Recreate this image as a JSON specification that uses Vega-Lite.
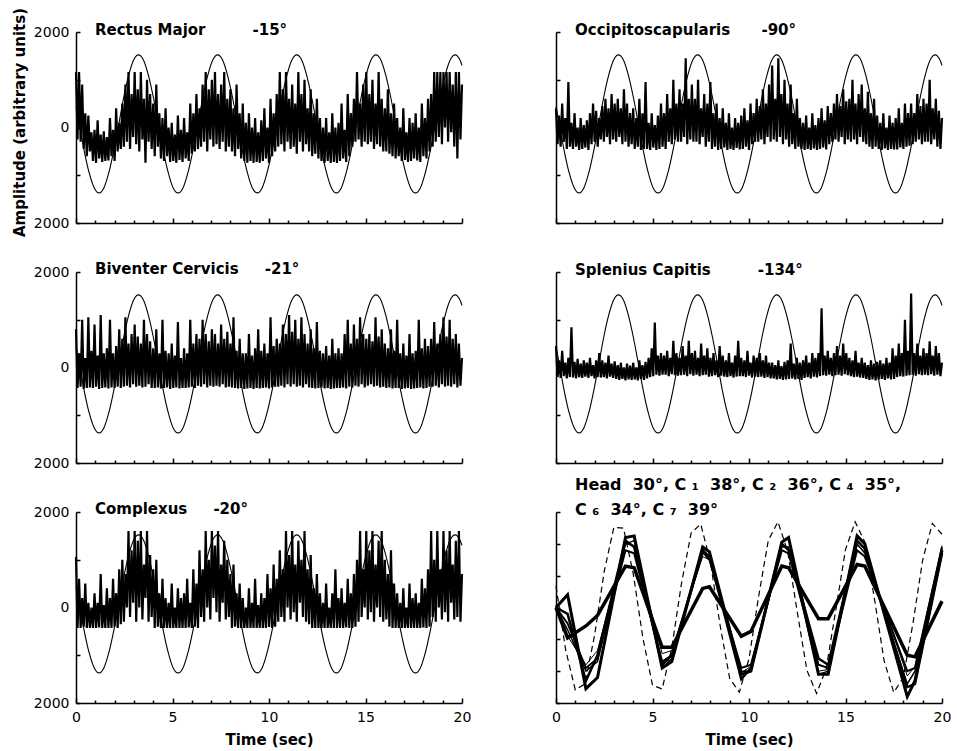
{
"$schema": "https://vega.github.io/schema/vega-lite/v6.json",
"background": "white",
"padding": {"left": 12, "top": 7, "right": 5, "bottom": 2},
"config": {
  "view": {"stroke": null},
  "axis": {"grid": false, "domainColor": "black", "domainWidth": 1.5, "tickColor": "black", "tickWidth": 1.5, "labelColor": "black", "labelFont": "DejaVu Sans", "labelFontSize": 14, "titleFont": "DejaVu Sans", "titleFontSize": 15, "titleFontWeight": "bold", "titleColor": "black"},
  "title": {"font": "DejaVu Sans", "fontSize": 15, "fontWeight": "bold", "color": "black", "anchor": "start", "frame": "group", "dx": 19, "offset": 0, "baseline": "alphabetic"},
  "line": {"color": "black"}
},
"datasets": {
"sine": [{"t":0,"v":438},{"t":0.17,"v":75},{"t":0.42,"v":-478},{"t":0.68,"v":-947},{"t":0.94,"v":-1260},{"t":1.19,"v":-1370},{"t":1.45,"v":-1260},{"t":1.7,"v":-947},{"t":1.96,"v":-478},{"t":2.22,"v":75},{"t":2.47,"v":628},{"t":2.73,"v":1097},{"t":2.98,"v":1410},{"t":3.24,"v":1520},{"t":3.5,"v":1410},{"t":3.75,"v":1097},{"t":4.01,"v":628},{"t":4.27,"v":75},{"t":4.52,"v":-478},{"t":4.78,"v":-947},{"t":5.03,"v":-1260},{"t":5.29,"v":-1370},{"t":5.55,"v":-1260},{"t":5.8,"v":-947},{"t":6.06,"v":-478},{"t":6.32,"v":75},{"t":6.57,"v":628},{"t":6.83,"v":1097},{"t":7.08,"v":1410},{"t":7.34,"v":1520},{"t":7.6,"v":1410},{"t":7.85,"v":1097},{"t":8.11,"v":628},{"t":8.37,"v":75},{"t":8.62,"v":-478},{"t":8.88,"v":-947},{"t":9.13,"v":-1260},{"t":9.39,"v":-1370},{"t":9.65,"v":-1260},{"t":9.9,"v":-947},{"t":10.16,"v":-478},{"t":10.42,"v":75},{"t":10.67,"v":628},{"t":10.93,"v":1097},{"t":11.18,"v":1410},{"t":11.44,"v":1520},{"t":11.7,"v":1410},{"t":11.95,"v":1097},{"t":12.21,"v":628},{"t":12.47,"v":75},{"t":12.72,"v":-478},{"t":12.98,"v":-947},{"t":13.23,"v":-1260},{"t":13.49,"v":-1370},{"t":13.75,"v":-1260},{"t":14,"v":-947},{"t":14.26,"v":-478},{"t":14.52,"v":75},{"t":14.77,"v":628},{"t":15.03,"v":1097},{"t":15.28,"v":1410},{"t":15.54,"v":1520},{"t":15.8,"v":1410},{"t":16.05,"v":1097},{"t":16.31,"v":628},{"t":16.57,"v":75},{"t":16.82,"v":-478},{"t":17.08,"v":-947},{"t":17.33,"v":-1260},{"t":17.59,"v":-1370},{"t":17.85,"v":-1260},{"t":18.1,"v":-947},{"t":18.36,"v":-478},{"t":18.62,"v":75},{"t":18.87,"v":628},{"t":19.13,"v":1097},{"t":19.38,"v":1410},{"t":19.64,"v":1520},{"t":19.9,"v":1410},{"t":20,"v":1300}],
"dash": [{"t":0,"v":0.68},{"t":0.5,"v":-1.33},{"t":1,"v":-2.59},{"t":1.5,"v":-2.4},{"t":2,"v":-0.87},{"t":2.5,"v":1.14},{"t":3,"v":2.52},{"t":3.5,"v":2.49},{"t":4,"v":1.07},{"t":4.5,"v":-0.95},{"t":5,"v":-2.44},{"t":5.5,"v":-2.56},{"t":6,"v":-1.26},{"t":6.5,"v":0.75},{"t":7,"v":2.34},{"t":7.5,"v":2.62},{"t":8,"v":1.43},{"t":8.5,"v":-0.55},{"t":9,"v":-2.23},{"t":9.5,"v":-2.66},{"t":10,"v":-1.61},{"t":10.5,"v":0.35},{"t":11,"v":2.11},{"t":11.5,"v":2.69},{"t":12,"v":1.77},{"t":12.5,"v":-0.14},{"t":13,"v":-1.97},{"t":13.5,"v":-2.7},{"t":14,"v":-1.92},{"t":14.5,"v":-0.07},{"t":15,"v":1.82},{"t":15.5,"v":2.69},{"t":16,"v":2.06},{"t":16.5,"v":0.27},{"t":17,"v":-1.67},{"t":17.5,"v":-2.67},{"t":18,"v":-2.19},{"t":18.5,"v":-0.48},{"t":19,"v":1.5},{"t":19.5,"v":2.64},{"t":20,"v":2.3}],
"pos": [
{"s":"Head","t":0,"v":0},{"s":"Head","t":0.6,"v":-0.95},{"s":"Head","t":1.55,"v":-0.58},{"s":"Head","t":2.15,"v":-0.25},{"s":"Head","t":3.6,"v":1.3},{"s":"Head","t":4.05,"v":1.25},{"s":"Head","t":5.5,"v":-1.25},{"s":"Head","t":6,"v":-1.25},{"s":"Head","t":7.6,"v":0.6},{"s":"Head","t":7.95,"v":0.65},{"s":"Head","t":9.6,"v":-0.9},{"s":"Head","t":10.1,"v":-0.75},{"s":"Head","t":11.7,"v":1.3},{"s":"Head","t":12.05,"v":1.25},{"s":"Head","t":13.6,"v":-0.35},{"s":"Head","t":14.1,"v":-0.35},{"s":"Head","t":15.6,"v":1.35},{"s":"Head","t":16,"v":1.3},{"s":"Head","t":18.2,"v":-1.5},{"s":"Head","t":18.6,"v":-1.55},{"s":"Head","t":20,"v":0.2},
{"s":"C7","t":0,"v":0},{"s":"C7","t":0.6,"v":-0.9},{"s":"C7","t":1.55,"v":-1.8},{"s":"C7","t":2.15,"v":-1.35},{"s":"C7","t":3.6,"v":2.0},{"s":"C7","t":4.05,"v":1.95},{"s":"C7","t":5.5,"v":-1.45},{"s":"C7","t":6,"v":-1.35},{"s":"C7","t":7.6,"v":1.6},{"s":"C7","t":7.95,"v":1.5},{"s":"C7","t":9.6,"v":-2.05},{"s":"C7","t":10.1,"v":-1.85},{"s":"C7","t":11.7,"v":1.95},{"s":"C7","t":12.05,"v":1.9},{"s":"C7","t":13.6,"v":-2.0},{"s":"C7","t":14.1,"v":-1.95},{"s":"C7","t":15.6,"v":1.95},{"s":"C7","t":16,"v":1.75},{"s":"C7","t":18.2,"v":-2.15},{"s":"C7","t":18.6,"v":-1.85},{"s":"C7","t":20,"v":1.95},
{"s":"C1","t":0,"v":0},{"s":"C1","t":0.6,"v":0.4},{"s":"C1","t":1.55,"v":-2.55},{"s":"C1","t":2.15,"v":-2.2},{"s":"C1","t":3.6,"v":2.2},{"s":"C1","t":4.05,"v":2.25},{"s":"C1","t":5.5,"v":-1.9},{"s":"C1","t":6,"v":-1.7},{"s":"C1","t":7.6,"v":1.9},{"s":"C1","t":7.95,"v":1.75},{"s":"C1","t":9.6,"v":-2.1},{"s":"C1","t":10.1,"v":-2.0},{"s":"C1","t":11.7,"v":2.05},{"s":"C1","t":12.05,"v":2.2},{"s":"C1","t":13.6,"v":-2.1},{"s":"C1","t":14.1,"v":-2.1},{"s":"C1","t":15.6,"v":2.25},{"s":"C1","t":16,"v":2.0},{"s":"C1","t":18.2,"v":-2.8},{"s":"C1","t":18.6,"v":-2.3},{"s":"C1","t":20,"v":1.8},
{"s":"C2","t":0,"v":0},{"s":"C2","t":0.6,"v":-0.2},{"s":"C2","t":1.55,"v":-2.3},{"s":"C2","t":2.15,"v":-1.5},{"s":"C2","t":3.6,"v":2.1},{"s":"C2","t":4.05,"v":1.9},{"s":"C2","t":5.5,"v":-1.8},{"s":"C2","t":6,"v":-1.5},{"s":"C2","t":7.6,"v":1.8},{"s":"C2","t":7.95,"v":1.6},{"s":"C2","t":9.6,"v":-2.25},{"s":"C2","t":10.1,"v":-1.9},{"s":"C2","t":11.7,"v":2.0},{"s":"C2","t":12.05,"v":1.8},{"s":"C2","t":13.6,"v":-1.6},{"s":"C2","t":14.1,"v":-1.8},{"s":"C2","t":15.6,"v":2.1},{"s":"C2","t":16,"v":1.85},{"s":"C2","t":18.2,"v":-2.5},{"s":"C2","t":18.6,"v":-2.4},{"s":"C2","t":20,"v":1.7},
{"s":"C4","t":0,"v":0},{"s":"C4","t":0.6,"v":-0.5},{"s":"C4","t":1.55,"v":-1.9},{"s":"C4","t":2.15,"v":-1.6},{"s":"C4","t":3.6,"v":1.8},{"s":"C4","t":4.05,"v":1.7},{"s":"C4","t":5.5,"v":-1.7},{"s":"C4","t":6,"v":-1.5},{"s":"C4","t":7.6,"v":1.75},{"s":"C4","t":7.95,"v":1.5},{"s":"C4","t":9.6,"v":-1.9},{"s":"C4","t":10.1,"v":-1.8},{"s":"C4","t":11.7,"v":1.8},{"s":"C4","t":12.05,"v":1.7},{"s":"C4","t":13.6,"v":-1.8},{"s":"C4","t":14.1,"v":-1.9},{"s":"C4","t":15.6,"v":1.8},{"s":"C4","t":16,"v":1.6},{"s":"C4","t":18.2,"v":-2.0},{"s":"C4","t":18.6,"v":-1.9},{"s":"C4","t":20,"v":1.9},
{"s":"C6","t":0,"v":0},{"s":"C6","t":0.6,"v":-0.7},{"s":"C6","t":1.55,"v":-2.0},{"s":"C6","t":2.15,"v":-1.7},{"s":"C6","t":3.6,"v":2.0},{"s":"C6","t":4.05,"v":2.1},{"s":"C6","t":5.5,"v":-1.9},{"s":"C6","t":6,"v":-1.6},{"s":"C6","t":7.6,"v":1.7},{"s":"C6","t":7.95,"v":1.6},{"s":"C6","t":9.6,"v":-2.0},{"s":"C6","t":10.1,"v":-2.0},{"s":"C6","t":11.7,"v":1.9},{"s":"C6","t":12.05,"v":1.9},{"s":"C6","t":13.6,"v":-2.1},{"s":"C6","t":14.1,"v":-2.0},{"s":"C6","t":15.6,"v":2.0},{"s":"C6","t":16,"v":1.7},{"s":"C6","t":18.2,"v":-2.4},{"s":"C6","t":18.6,"v":-2.0},{"s":"C6","t":20,"v":1.85}
],
"emg": [
{"t":0,"a":1160,"b":400,"c":800,"d":450,"e":1060},{"t":0.08,"a":-250,"b":-350,"c":-430,"d":-200,"e":-430},{"t":0.16,"a":1160,"b":250,"c":300,"d":150,"e":600},{"t":0.24,"a":-300,"b":-400,"c":-400,"d":-220,"e":-430},{"t":0.32,"a":900,"b":500,"c":1000,"d":350,"e":200},{"t":0.4,"a":-450,"b":-300,"c":-450,"d":-180,"e":-400},{"t":0.48,"a":300,"b":200,"c":200,"d":100,"e":500},{"t":0.56,"a":-600,"b":-450,"c":-430,"d":-230,"e":-430},{"t":0.64,"a":250,"b":950,"c":1050,"d":200,"e":100},{"t":0.72,"a":-500,"b":-400,"c":-420,"d":-200,"e":-430},
{"t":0.8,"a":-100,"b":100,"c":350,"d":840,"e":0},{"t":0.88,"a":-700,"b":-450,"c":-430,"d":-210,"e":-430},{"t":0.96,"a":-50,"b":300,"c":900,"d":120,"e":300},{"t":1.04,"a":-740,"b":-400,"c":-400,"d":-230,"e":-430},{"t":1.12,"a":150,"b":0,"c":250,"d":180,"e":100},{"t":1.2,"a":-650,"b":-470,"c":-450,"d":-200,"e":-420},{"t":1.28,"a":-150,"b":200,"c":1100,"d":80,"e":700},{"t":1.36,"a":-720,"b":-450,"c":-430,"d":-220,"e":-430},{"t":1.44,"a":-80,"b":50,"c":300,"d":150,"e":50},{"t":1.52,"a":-700,"b":-420,"c":-420,"d":-190,"e":-430},
{"t":1.6,"a":-200,"b":150,"c":400,"d":100,"e":400},{"t":1.68,"a":-690,"b":-470,"c":-440,"d":-220,"e":-430},{"t":1.76,"a":200,"b":300,"c":1000,"d":200,"e":200},{"t":1.84,"a":-600,"b":-350,"c":-420,"d":-180,"e":-430},{"t":1.92,"a":-50,"b":500,"c":300,"d":50,"e":600},{"t":2,"a":-700,"b":-300,"c":-430,"d":-230,"e":-400},{"t":2.08,"a":400,"b":350,"c":450,"d":150,"e":300},{"t":2.16,"a":-500,"b":-400,"c":-400,"d":-200,"e":-430},{"t":2.24,"a":100,"b":200,"c":800,"d":300,"e":800},{"t":2.32,"a":-450,"b":-250,"c":-430,"d":-210,"e":-350},
{"t":2.4,"a":500,"b":450,"c":600,"d":150,"e":1000},{"t":2.48,"a":-400,"b":-300,"c":-400,"d":-200,"e":-300},{"t":2.56,"a":900,"b":600,"c":1050,"d":100,"e":700},{"t":2.64,"a":-300,"b":-200,"c":-380,"d":-230,"e":0},{"t":2.72,"a":1160,"b":400,"c":500,"d":250,"e":1600},{"t":2.8,"a":-450,"b":-350,"c":-420,"d":-190,"e":-200},{"t":2.88,"a":700,"b":700,"c":700,"d":80,"e":1200},{"t":2.96,"a":-200,"b":-250,"c":-350,"d":-220,"e":100},{"t":3.04,"a":1160,"b":500,"c":900,"d":130,"e":1600},{"t":3.12,"a":-350,"b":-300,"c":-400,"d":-240,"e":-300},
{"t":3.2,"a":800,"b":600,"c":650,"d":50,"e":1400},{"t":3.28,"a":-500,"b":-200,"c":-380,"d":-260,"e":0},{"t":3.36,"a":1160,"b":400,"c":500,"d":100,"e":1600},{"t":3.44,"a":-250,"b":-350,"c":-420,"d":-240,"e":-250},{"t":3.52,"a":600,"b":800,"c":1000,"d":0,"e":900},{"t":3.6,"a":-740,"b":-300,"c":-400,"d":-270,"e":200},{"t":3.68,"a":1000,"b":500,"c":700,"d":80,"e":1600},{"t":3.76,"a":-300,"b":-400,"c":-350,"d":-250,"e":-300},{"t":3.84,"a":700,"b":300,"c":550,"d":40,"e":1100},{"t":3.92,"a":-450,"b":-350,"c":-430,"d":-260,"e":-200},
{"t":4,"a":500,"b":400,"c":400,"d":100,"e":800},{"t":4.08,"a":-600,"b":-450,"c":-430,"d":-250,"e":-430},{"t":4.16,"a":900,"b":200,"c":800,"d":0,"e":1000},{"t":4.24,"a":-400,"b":-400,"c":-420,"d":-270,"e":-400},{"t":4.32,"a":300,"b":600,"c":300,"d":150,"e":300},{"t":4.4,"a":-650,"b":-470,"c":-440,"d":-240,"e":-430},{"t":4.48,"a":200,"b":300,"c":1000,"d":50,"e":600},{"t":4.56,"a":-700,"b":-450,"c":-430,"d":-260,"e":-430},{"t":4.64,"a":400,"b":950,"c":350,"d":120,"e":200},{"t":4.72,"a":-600,"b":-450,"c":-420,"d":-230,"e":-430},
{"t":4.8,"a":0,"b":100,"c":300,"d":200,"e":100},{"t":4.88,"a":-720,"b":-470,"c":-450,"d":-200,"e":-430},{"t":4.96,"a":100,"b":300,"c":500,"d":400,"e":500},{"t":5.04,"a":-700,"b":-420,"c":-430,"d":-180,"e":-430},{"t":5.12,"a":-150,"b":50,"c":250,"d":940,"e":0},{"t":5.2,"a":-740,"b":-470,"c":-420,"d":-150,"e":-430},{"t":5.28,"a":250,"b":250,"c":950,"d":250,"e":400},{"t":5.36,"a":-680,"b":-450,"c":-440,"d":-170,"e":-430},{"t":5.44,"a":-50,"b":500,"c":200,"d":300,"e":200},{"t":5.52,"a":-720,"b":-400,"c":-430,"d":-150,"e":-430},
{"t":5.6,"a":200,"b":300,"c":400,"d":250,"e":300},{"t":5.68,"a":-650,"b":-450,"c":-430,"d":-150,"e":-430},{"t":5.76,"a":-100,"b":700,"c":300,"d":350,"e":600},{"t":5.84,"a":-700,"b":-300,"c":-420,"d":-180,"e":-420},{"t":5.92,"a":500,"b":400,"c":1000,"d":200,"e":100},{"t":6,"a":-550,"b":-350,"c":-400,"d":-140,"e":-430},{"t":6.08,"a":300,"b":1000,"c":500,"d":560,"e":800},{"t":6.16,"a":-500,"b":-250,"c":-430,"d":-160,"e":-400},{"t":6.24,"a":700,"b":500,"c":700,"d":300,"e":500},{"t":6.32,"a":-450,"b":-300,"c":-380,"d":-170,"e":-430},
{"t":6.4,"a":400,"b":800,"c":600,"d":200,"e":1200},{"t":6.48,"a":-400,"b":-300,"c":-400,"d":-160,"e":-200},{"t":6.56,"a":900,"b":500,"c":1000,"d":450,"e":800},{"t":6.64,"a":-300,"b":-200,"c":-350,"d":-150,"e":-300},{"t":6.72,"a":1160,"b":1450,"c":700,"d":250,"e":1600},{"t":6.8,"a":-500,"b":-350,"c":-420,"d":-180,"e":0},{"t":6.88,"a":800,"b":600,"c":550,"d":560,"e":1000},{"t":6.96,"a":-250,"b":-250,"c":-380,"d":-140,"e":-250},{"t":7.04,"a":1000,"b":900,"c":800,"d":300,"e":1600},{"t":7.12,"a":-400,"b":-300,"c":-400,"d":-170,"e":200},
{"t":7.2,"a":1160,"b":600,"c":700,"d":350,"e":1300},{"t":7.28,"a":-350,"b":-300,"c":-380,"d":-150,"e":-100},{"t":7.36,"a":700,"b":1000,"c":500,"d":200,"e":1600},{"t":7.44,"a":-450,"b":-350,"c":-400,"d":-180,"e":-300},{"t":7.52,"a":900,"b":400,"c":900,"d":500,"e":900},{"t":7.6,"a":-300,"b":-200,"c":-350,"d":-160,"e":100},{"t":7.68,"a":1160,"b":700,"c":600,"d":250,"e":1400},{"t":7.76,"a":-500,"b":-400,"c":-420,"d":-150,"e":-250},{"t":7.84,"a":600,"b":500,"c":750,"d":400,"e":1000},{"t":7.92,"a":-400,"b":-300,"c":-400,"d":-190,"e":-200},
{"t":8,"a":800,"b":950,"c":500,"d":200,"e":700},{"t":8.08,"a":-500,"b":-450,"c":-420,"d":-180,"e":-430},{"t":8.16,"a":400,"b":300,"c":1050,"d":300,"e":900},{"t":8.24,"a":-600,"b":-400,"c":-430,"d":-160,"e":-400},{"t":8.32,"a":900,"b":500,"c":350,"d":150,"e":300},{"t":8.4,"a":-450,"b":-470,"c":-440,"d":-200,"e":-430},{"t":8.48,"a":300,"b":200,"c":600,"d":450,"e":500},{"t":8.56,"a":-650,"b":-450,"c":-430,"d":-170,"e":-430},{"t":8.64,"a":500,"b":400,"c":300,"d":250,"e":200},{"t":8.72,"a":-700,"b":-420,"c":-450,"d":-190,"e":-430},
{"t":8.8,"a":100,"b":100,"c":300,"d":150,"e":0},{"t":8.88,"a":-740,"b":-470,"c":-440,"d":-200,"e":-430},{"t":8.96,"a":300,"b":300,"c":700,"d":300,"e":400},{"t":9.04,"a":-700,"b":-450,"c":-430,"d":-180,"e":-430},{"t":9.12,"a":0,"b":0,"c":250,"d":100,"e":100},{"t":9.2,"a":-740,"b":-470,"c":-450,"d":-210,"e":-430},{"t":9.28,"a":200,"b":200,"c":400,"d":250,"e":600},{"t":9.36,"a":-720,"b":-430,"c":-430,"d":-190,"e":-430},{"t":9.44,"a":-100,"b":100,"c":800,"d":560,"e":50},{"t":9.52,"a":-740,"b":-460,"c":-440,"d":-180,"e":-430},
{"t":9.6,"a":150,"b":250,"c":350,"d":200,"e":300},{"t":9.68,"a":-700,"b":-450,"c":-430,"d":-180,"e":-430},{"t":9.76,"a":400,"b":400,"c":500,"d":150,"e":200},{"t":9.84,"a":-650,"b":-400,"c":-420,"d":-200,"e":-430},{"t":9.92,"a":0,"b":150,"c":300,"d":350,"e":700},{"t":10,"a":-740,"b":-470,"c":-440,"d":-170,"e":-410},{"t":10.08,"a":600,"b":500,"c":1050,"d":100,"e":400},{"t":10.16,"a":-600,"b":-350,"c":-420,"d":-210,"e":-430},{"t":10.24,"a":300,"b":300,"c":450,"d":250,"e":900},{"t":10.32,"a":-500,"b":-300,"c":-400,"d":-190,"e":-400},
{"t":10.4,"a":700,"b":600,"c":600,"d":200,"e":600},{"t":10.48,"a":-400,"b":-300,"c":-400,"d":-200,"e":-300},{"t":10.56,"a":1160,"b":450,"c":500,"d":300,"e":1200},{"t":10.64,"a":-350,"b":-250,"c":-380,"d":-190,"e":-200},{"t":10.72,"a":800,"b":800,"c":900,"d":150,"e":800},{"t":10.8,"a":-500,"b":-350,"c":-420,"d":-220,"e":-300},{"t":10.88,"a":1160,"b":500,"c":700,"d":250,"e":1600},{"t":10.96,"a":-300,"b":-200,"c":-350,"d":-200,"e":0},{"t":11.04,"a":600,"b":900,"c":1100,"d":100,"e":1100},{"t":11.12,"a":-450,"b":-300,"c":-400,"d":-230,"e":-250},
{"t":11.2,"a":900,"b":1300,"c":750,"d":100,"e":1600},{"t":11.28,"a":-400,"b":-250,"c":-350,"d":-230,"e":-100},{"t":11.36,"a":500,"b":600,"c":1000,"d":50,"e":900},{"t":11.44,"a":-550,"b":-300,"c":-400,"d":-250,"e":-300},{"t":11.52,"a":1160,"b":1450,"c":600,"d":150,"e":1400},{"t":11.6,"a":-300,"b":-200,"c":-380,"d":-240,"e":100},{"t":11.68,"a":700,"b":700,"c":1050,"d":30,"e":1000},{"t":11.76,"a":-500,"b":-350,"c":-420,"d":-260,"e":-200},{"t":11.84,"a":1000,"b":1000,"c":700,"d":120,"e":1600},{"t":11.92,"a":-350,"b":-250,"c":-350,"d":-250,"e":-300},
{"t":12,"a":400,"b":500,"c":500,"d":150,"e":800},{"t":12.08,"a":-500,"b":-400,"c":-420,"d":-240,"e":-350},{"t":12.16,"a":800,"b":900,"c":800,"d":500,"e":1100},{"t":12.24,"a":-600,"b":-350,"c":-430,"d":-230,"e":-430},{"t":12.32,"a":300,"b":300,"c":400,"d":80,"e":400},{"t":12.4,"a":-550,"b":-450,"c":-440,"d":-250,"e":-430},{"t":12.48,"a":600,"b":600,"c":950,"d":200,"e":700},{"t":12.56,"a":-650,"b":-400,"c":-430,"d":-240,"e":-430},{"t":12.64,"a":200,"b":200,"c":350,"d":100,"e":300},{"t":12.72,"a":-700,"b":-450,"c":-420,"d":-260,"e":-430},
{"t":12.8,"a":0,"b":100,"c":300,"d":150,"e":100},{"t":12.88,"a":-740,"b":-470,"c":-440,"d":-220,"e":-430},{"t":12.96,"a":200,"b":250,"c":450,"d":250,"e":500},{"t":13.04,"a":-700,"b":-450,"c":-430,"d":-200,"e":-430},{"t":13.12,"a":-100,"b":0,"c":250,"d":100,"e":0},{"t":13.2,"a":-740,"b":-470,"c":-450,"d":-230,"e":-430},{"t":13.28,"a":300,"b":300,"c":600,"d":300,"e":300},{"t":13.36,"a":-720,"b":-440,"c":-440,"d":-190,"e":-430},{"t":13.44,"a":0,"b":50,"c":300,"d":200,"e":800},{"t":13.52,"a":-740,"b":-470,"c":-430,"d":-210,"e":-430},
{"t":13.6,"a":100,"b":200,"c":400,"d":300,"e":200},{"t":13.68,"a":-700,"b":-450,"c":-430,"d":-180,"e":-430},{"t":13.76,"a":500,"b":400,"c":300,"d":1240,"e":400},{"t":13.84,"a":-650,"b":-420,"c":-420,"d":-160,"e":-430},{"t":13.92,"a":-50,"b":150,"c":700,"d":250,"e":100},{"t":14,"a":-720,"b":-460,"c":-440,"d":-170,"e":-420},{"t":14.08,"a":700,"b":450,"c":1000,"d":350,"e":600},{"t":14.16,"a":-600,"b":-350,"c":-400,"d":-150,"e":-430},{"t":14.24,"a":300,"b":300,"c":500,"d":200,"e":300},{"t":14.32,"a":-400,"b":-300,"c":-420,"d":-180,"e":-430},
{"t":14.4,"a":600,"b":500,"c":900,"d":300,"e":700},{"t":14.48,"a":-300,"b":-250,"c":-380,"d":-160,"e":-400},{"t":14.56,"a":1160,"b":700,"c":600,"d":450,"e":1000},{"t":14.64,"a":-250,"b":-300,"c":-400,"d":-150,"e":-300},{"t":14.72,"a":500,"b":450,"c":1050,"d":250,"e":1600},{"t":14.8,"a":-400,"b":-200,"c":-350,"d":-170,"e":-200},{"t":14.88,"a":900,"b":800,"c":700,"d":500,"e":800},{"t":14.96,"a":-300,"b":-350,"c":-420,"d":-140,"e":0},{"t":15.04,"a":1160,"b":550,"c":600,"d":300,"e":1600},{"t":15.12,"a":-350,"b":-250,"c":-380,"d":-160,"e":-250},
{"t":15.2,"a":700,"b":600,"c":700,"d":200,"e":1200},{"t":15.28,"a":-300,"b":-300,"c":-350,"d":-180,"e":-100},{"t":15.36,"a":1000,"b":1000,"c":550,"d":150,"e":1600},{"t":15.44,"a":-450,"b":-250,"c":-400,"d":-200,"e":-300},{"t":15.52,"a":500,"b":500,"c":1050,"d":350,"e":900},{"t":15.6,"a":-350,"b":-350,"c":-380,"d":-190,"e":0},{"t":15.68,"a":1160,"b":700,"c":650,"d":100,"e":1400},{"t":15.76,"a":-400,"b":-200,"c":-420,"d":-210,"e":-200},{"t":15.84,"a":600,"b":900,"c":800,"d":200,"e":1600},{"t":15.92,"a":-500,"b":-300,"c":-400,"d":-220,"e":-300},
{"t":16,"a":400,"b":400,"c":500,"d":100,"e":1000},{"t":16.08,"a":-500,"b":-350,"c":-430,"d":-240,"e":-250},{"t":16.16,"a":800,"b":750,"c":400,"d":50,"e":700},{"t":16.24,"a":-550,"b":-400,"c":-420,"d":-260,"e":-400},{"t":16.32,"a":300,"b":300,"c":800,"d":150,"e":1200},{"t":16.4,"a":-600,"b":-450,"c":-440,"d":-250,"e":-430},{"t":16.48,"a":500,"b":600,"c":350,"d":80,"e":500},{"t":16.56,"a":-650,"b":-400,"c":-430,"d":-270,"e":-430},{"t":16.64,"a":200,"b":250,"c":1000,"d":120,"e":300},{"t":16.72,"a":-600,"b":-450,"c":-430,"d":-250,"e":-430},
{"t":16.8,"a":0,"b":100,"c":300,"d":150,"e":100},{"t":16.88,"a":-700,"b":-470,"c":-450,"d":-240,"e":-430},{"t":16.96,"a":400,"b":300,"c":500,"d":80,"e":400},{"t":17.04,"a":-680,"b":-440,"c":-440,"d":-260,"e":-430},{"t":17.12,"a":-100,"b":0,"c":250,"d":200,"e":0},{"t":17.2,"a":-720,"b":-470,"c":-430,"d":-230,"e":-430},{"t":17.28,"a":200,"b":250,"c":700,"d":100,"e":500},{"t":17.36,"a":-700,"b":-450,"c":-450,"d":-250,"e":-430},{"t":17.44,"a":100,"b":100,"c":300,"d":400,"e":200},{"t":17.52,"a":-650,"b":-460,"c":-440,"d":-240,"e":-430},
{"t":17.6,"a":300,"b":200,"c":350,"d":250,"e":300},{"t":17.68,"a":-690,"b":-460,"c":-430,"d":-200,"e":-430},{"t":17.76,"a":0,"b":400,"c":1000,"d":500,"e":100},{"t":17.84,"a":-720,"b":-420,"c":-420,"d":-180,"e":-430},{"t":17.92,"a":500,"b":100,"c":400,"d":300,"e":600},{"t":18,"a":-600,"b":-450,"c":-440,"d":-190,"e":-420},{"t":18.08,"a":200,"b":500,"c":600,"d":1000,"e":400},{"t":18.16,"a":-650,"b":-400,"c":-430,"d":-170,"e":-430},{"t":18.24,"a":600,"b":300,"c":450,"d":350,"e":800},{"t":18.32,"a":-500,"b":-380,"c":-400,"d":-160,"e":-400},
{"t":18.4,"a":700,"b":500,"c":600,"d":1550,"e":1600},{"t":18.48,"a":-400,"b":-350,"c":-400,"d":-150,"e":-200},{"t":18.56,"a":1160,"b":300,"c":950,"d":300,"e":1000},{"t":18.64,"a":-300,"b":-300,"c":-380,"d":-170,"e":-300},{"t":18.72,"a":1160,"b":700,"c":500,"d":500,"e":1600},{"t":18.8,"a":-200,"b":-250,"c":-420,"d":-140,"e":0},{"t":18.88,"a":1160,"b":450,"c":700,"d":250,"e":800},{"t":18.96,"a":-350,"b":-350,"c":-350,"d":-160,"e":-250},{"t":19.04,"a":1160,"b":600,"c":1050,"d":400,"e":1600},{"t":19.12,"a":0,"b":-300,"c":-400,"d":-150,"e":-100},
{"t":19.2,"a":1160,"b":500,"c":650,"d":300,"e":1200},{"t":19.28,"a":-300,"b":-300,"c":-380,"d":-160,"e":-300},{"t":19.36,"a":1160,"b":1000,"c":1000,"d":550,"e":1600},{"t":19.44,"a":-100,"b":-350,"c":-400,"d":-140,"e":100},{"t":19.52,"a":900,"b":400,"c":600,"d":250,"e":900},{"t":19.6,"a":-400,"b":-250,"c":-350,"d":-170,"e":-250},{"t":19.68,"a":1160,"b":600,"c":700,"d":450,"e":1400},{"t":19.76,"a":-650,"b":-400,"c":-420,"d":-150,"e":-200},{"t":19.84,"a":1160,"b":350,"c":500,"d":300,"e":1600},{"t":19.92,"a":-250,"b":-450,"c":-380,"d":-180,"e":-300},
{"t":20,"a":900,"b":200,"c":200,"d":100,"e":700}
]
},
"columns": 2,
"spacing": {"row": 49, "column": 94},
"bounds": "flush",
"concat": [
 {"width": 386, "height": 191,
  "title": {"text": "Rectus Major\u00a0\u00a0\u00a0\u00a0\u00a0\u00a0\u00a0\u00a0\u00a0-15°", "offset": -31},
  "encoding": {"x": {"field": "t", "type": "quantitative", "title": null, "scale": {"domain": [0, 20], "nice": false}, "axis": {"values": [0,1,2,3,4,5,6,7,8,9,10,11,12,13,14,15,16,17,18,19,20], "labels": false, "title": null, "tickSize": {"condition": {"test": "datum.value % 5 === 0", "value": -5}, "value": -3}}}},
  "layer": [
   {"data": {"name": "emg"}, "mark": {"type": "line", "strokeWidth": 2.2}, "encoding": {"y": {"field": "a", "type": "quantitative", "title": "Amplitude (arbitrary units)", "scale": {"domain": [-2000, 2000], "nice": false}, "axis": {"values": [-2000,-1500,-1000,-500,0,500,1000,1500,2000], "labelExpr": "datum.value === 0 ? '0' : (abs(datum.value) === 2000 ? '2000' : '')", "labelFlush": false, "labelOverlap": false, "labelPadding": 11, "tickSize": -4, "titlePadding": 6, "titleY": 90}}}},
   {"data": {"name": "sine"}, "mark": {"type": "line", "interpolate": "monotone", "strokeWidth": 1.1}, "encoding": {"y": {"field": "v", "type": "quantitative", "title": "Amplitude (arbitrary units)"}}}
  ]},
 {"width": 386, "height": 191,
  "title": {"text": "Occipitoscapularis\u00a0\u00a0\u00a0\u00a0\u00a0\u00a0-90°", "offset": -7},
  "encoding": {"x": {"field": "t", "type": "quantitative", "title": null, "scale": {"domain": [0, 20], "nice": false}, "axis": {"values": [0,1,2,3,4,5,6,7,8,9,10,11,12,13,14,15,16,17,18,19,20], "labels": false, "title": null, "tickSize": {"condition": {"test": "datum.value % 5 === 0", "value": -5}, "value": -3}}}},
  "layer": [
   {"data": {"name": "emg"}, "mark": {"type": "line", "strokeWidth": 2.2}, "encoding": {"y": {"field": "b", "type": "quantitative", "title": null, "scale": {"domain": [-2000, 2000], "nice": false}, "axis": {"values": [-2000,-1500,-1000,-500,0,500,1000,1500,2000], "labels": false, "tickSize": -4}}}},
   {"data": {"name": "sine"}, "mark": {"type": "line", "interpolate": "monotone", "strokeWidth": 1.1}, "encoding": {"y": {"field": "v", "type": "quantitative", "title": null}}}
  ]},
 {"width": 386, "height": 191,
  "title": {"text": "Biventer Cervicis\u00a0\u00a0\u00a0\u00a0\u00a0-21°", "offset": -12},
  "encoding": {"x": {"field": "t", "type": "quantitative", "title": null, "scale": {"domain": [0, 20], "nice": false}, "axis": {"values": [0,1,2,3,4,5,6,7,8,9,10,11,12,13,14,15,16,17,18,19,20], "labels": false, "title": null, "tickSize": {"condition": {"test": "datum.value % 5 === 0", "value": -5}, "value": -3}}}},
  "layer": [
   {"data": {"name": "emg"}, "mark": {"type": "line", "strokeWidth": 2.2}, "encoding": {"y": {"field": "c", "type": "quantitative", "title": null, "scale": {"domain": [-2000, 2000], "nice": false}, "axis": {"values": [-2000,-1500,-1000,-500,0,500,1000,1500,2000], "labelExpr": "datum.value === 0 ? '0' : (abs(datum.value) === 2000 ? '2000' : '')", "labelFlush": false, "labelOverlap": false, "labelPadding": 11, "tickSize": -4}}}},
   {"data": {"name": "sine"}, "mark": {"type": "line", "interpolate": "monotone", "strokeWidth": 1.1}, "encoding": {"y": {"field": "v", "type": "quantitative", "title": null}}}
  ]},
 {"width": 386, "height": 191,
  "title": {"text": "Splenius Capitis\u00a0\u00a0\u00a0\u00a0\u00a0\u00a0\u00a0\u00a0\u00a0-134°", "offset": -7},
  "encoding": {"x": {"field": "t", "type": "quantitative", "title": null, "scale": {"domain": [0, 20], "nice": false}, "axis": {"values": [0,1,2,3,4,5,6,7,8,9,10,11,12,13,14,15,16,17,18,19,20], "labels": false, "title": null, "tickSize": {"condition": {"test": "datum.value % 5 === 0", "value": -5}, "value": -3}}}},
  "layer": [
   {"data": {"name": "emg"}, "mark": {"type": "line", "strokeWidth": 2.2}, "encoding": {"y": {"field": "d", "type": "quantitative", "title": null, "scale": {"domain": [-2000, 2000], "nice": false}, "axis": {"values": [-2000,-1500,-1000,-500,0,500,1000,1500,2000], "labels": false, "tickSize": -4}}}},
   {"data": {"name": "sine"}, "mark": {"type": "line", "interpolate": "monotone", "strokeWidth": 1.1}, "encoding": {"y": {"field": "v", "type": "quantitative", "title": null}}}
  ]},
 {"width": 386, "height": 191,
  "title": {"text": "Complexus\u00a0\u00a0\u00a0\u00a0\u00a0-20°", "offset": -12},
  "encoding": {"x": {"field": "t", "type": "quantitative", "title": "Time (sec)", "scale": {"domain": [0, 20], "nice": false}, "axis": {"values": [0,1,2,3,4,5,6,7,8,9,10,11,12,13,14,15,16,17,18,19,20], "labelExpr": "datum.value % 5 === 0 ? datum.label : ''", "labelFlush": false, "labelOverlap": false, "labelPadding": 12, "titlePadding": 6, "tickSize": {"condition": {"test": "datum.value % 5 === 0", "value": -5}, "value": -3}}}},
  "layer": [
   {"data": {"name": "emg"}, "mark": {"type": "line", "strokeWidth": 2.2}, "encoding": {"y": {"field": "e", "type": "quantitative", "title": null, "scale": {"domain": [-2000, 2000], "nice": false}, "axis": {"values": [-2000,-1500,-1000,-500,0,500,1000,1500,2000], "labelExpr": "datum.value === 0 ? '0' : (abs(datum.value) === 2000 ? '2000' : '')", "labelFlush": false, "labelOverlap": false, "labelPadding": 11, "tickSize": -4}}}},
   {"data": {"name": "sine"}, "mark": {"type": "line", "interpolate": "monotone", "strokeWidth": 1.1}, "encoding": {"y": {"field": "v", "type": "quantitative", "title": null}}}
  ]},
 {"width": 386, "height": 191,
  "title": {"text": ["Head\u00a0\u00a030°,\u00a0C\u00a0₁\u00a0\u00a038°,\u00a0C\u00a0₂\u00a0\u00a036°,\u00a0C\u00a0₄\u00a0\u00a035°,", "C\u00a0₆\u00a0\u00a034°,\u00a0C\u00a0₇\u00a0\u00a039°"], "fontSize": 16, "lineHeight": 25, "offset": -7},
  "encoding": {"x": {"field": "t", "type": "quantitative", "title": "Time (sec)", "scale": {"domain": [0, 20], "nice": false}, "axis": {"values": [0,1,2,3,4,5,6,7,8,9,10,11,12,13,14,15,16,17,18,19,20], "labelExpr": "datum.value % 5 === 0 ? datum.label : ''", "labelFlush": false, "labelOverlap": false, "labelPadding": 12, "titlePadding": 6, "tickSize": {"condition": {"test": "datum.value % 5 === 0", "value": -5}, "value": -3}}},
   "y": {"field": "v", "type": "quantitative", "title": null, "scale": {"domain": [-3, 3], "nice": false}, "axis": {"values": [-3,-2,-1,0,1,2,3], "labels": false, "tickSize": -4}}},
  "layer": [
   {"data": {"name": "dash"}, "mark": {"type": "line", "strokeDash": [6, 4], "strokeWidth": 1.2}},
   {"data": {"name": "pos"}, "mark": {"type": "line"}, "encoding": {"detail": {"field": "s", "type": "nominal"}, "strokeWidth": {"field": "s", "type": "nominal", "scale": {"domain": ["Head", "C1", "C2", "C4", "C6", "C7"], "range": [3.5, 1, 1, 1, 1, 3.5]}, "legend": null}}}
  ]}
]
}
